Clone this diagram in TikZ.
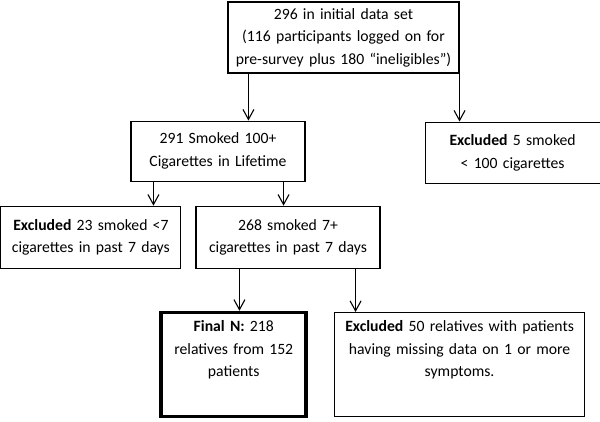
\documentclass[tikz,border=0pt]{standalone}
\usepackage{fontspec}
\setmainfont{Carlito}
\usetikzlibrary{shapes,arrows.meta,positioning}

\begin{document}
\begin{tikzpicture}[x=1pt,y=-1pt]
\tikzstyle{block} = [rectangle, draw, line width=1.1pt, inner sep=0pt,
    align=center, font=\fontsize{15.7}{22.5}\selectfont]
\tikzstyle{tall} = [block, text height=19pt, text depth=85pt]
\tikzstyle{line} = [draw, line width=1.1pt, -{Straight Barb[length=10pt,width=11pt]}]

\useasboundingbox (0,0) rectangle (600,422);

\node [block, text width=231pt, minimum height=71pt] (init) at (343.5,37.5)
  {296 in initial data set\\(116 participants logged on for\\pre-survey plus 180 “ineligibles”)};
\node [block, text width=174pt, minimum height=60pt,
  below right=47pt and -97pt of init.south west] (life)
  {291 Smoked 100+\\Cigarettes in Lifetime};
\node [block, text width=175pt, minimum height=61pt,
  below right=48pt and -35pt of init.south east] (excl5)
  {\textbf{Excluded} 5 smoked\\< 100 cigarettes};
\node [block, text width=184pt, minimum height=62pt,
  below right=24pt and 65pt of life.south west] (past7)
  {268 smoked 7+\\cigarettes in past 7 days};
\node [block, text width=180pt, minimum height=62pt, left=14pt of past7] (excl23)
  {\textbf{Excluded} 23 smoked <7\\cigarettes in past 7 days};
\node [tall, text width=145pt, line width=3.6pt,
  below right=42pt and -36pt of past7.south west] (final)
  {\textbf{Final N:} 218\\relatives from 152\\patients};
\node [tall, text width=250pt, right=26pt of final] (excl50)
  {\textbf{Excluded} 50 relatives with patients\\having missing data on 1 or more\\symptoms.};

\path [line] ([xshift=21pt]init.south west) coordinate (a1) -- (a1 |- life.north);
\path [line] (init.south east) coordinate (a2) -- (a2 |- excl5.north);
\path [line] ([xshift=23pt]life.south west) coordinate (b1) -- (b1 |- excl23.north);
\path [line] ([xshift=-22pt]life.south east) coordinate (b2) -- (b2 |- past7.north);
\path [line] ([xshift=44pt]past7.south west) coordinate (c1) -- (c1 |- final.north);
\path [line] ([xshift=-25pt]past7.south east) coordinate (c2) -- (c2 |- excl50.north);

\end{tikzpicture}
\end{document}
